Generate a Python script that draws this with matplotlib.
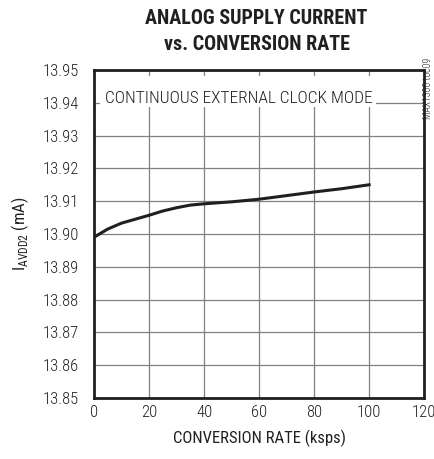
import matplotlib
matplotlib.use("Agg")
import numpy as np
from matplotlib import pyplot as plt
from matplotlib.patches import Rectangle

plt.rcParams['font.family'] = ['Roboto Condensed', 'Archivo Narrow', 'DejaVu Sans']
plt.rcParams['font.weight'] = 'light'

rate = [0, 5, 10, 15, 20, 25, 30, 35, 40, 50, 60, 70, 80, 90, 100]
current = [13.899, 13.9015, 13.9033, 13.9045, 13.9057, 13.907, 13.908, 13.9088,
           13.9092, 13.9098, 13.9106, 13.9117, 13.9128, 13.9138, 13.915]
xticks = [0, 20, 40, 60, 80, 100, 120]
yticks = [13.85, 13.86, 13.87, 13.88, 13.89, 13.90, 13.91, 13.92, 13.93, 13.94, 13.95]
ink = '#231f20'

fig = plt.figure(figsize=(4.35, 4.59), dpi=100)
ax = fig.add_axes([0.216, 0.133, 0.759, 0.7145])
ax.plot(rate, current, color=ink, lw=2.2, zorder=3)
ax.set_xlim(0, 120)
ax.set_ylim(13.85, 13.95)
ax.set_xticks(xticks)
ax.set_yticks(yticks)
ax.set_yticklabels(['%.2f' % v for v in yticks])
ax.tick_params(length=0, labelsize=12, colors=ink)
ax.tick_params(axis='x', pad=5)
ax.tick_params(axis='y', pad=11)
ax.grid(True, color='#808080', lw=0.9)
for s in ax.spines.values():
    s.set_linewidth(2)
    s.set_color(ink)

# white box behind the mode label
ax.add_patch(Rectangle((2.2, 13.9388), 100.3, 0.0094, facecolor='white',
                       edgecolor='none', zorder=2.5))
ax.text(52.5, 13.9399, 'CONTINUOUS EXTERNAL CLOCK MODE', ha='center', va='baseline',
        fontsize=12.5, color=ink, zorder=4)

ax.set_xlabel('CONVERSION RATE (ksps)', fontsize=12, color=ink, labelpad=7)
ax.set_ylabel(r'I$_{\mathregular{AVDD2}}$ (mA)', fontsize=12, color=ink, labelpad=8)

fig.text(0.59, 0.959, 'ANALOG SUPPLY CURRENT', ha='center', va='center',
         fontsize=14.5, fontweight='black', color=ink)
fig.text(0.59, 0.904, 'vs. CONVERSION RATE', ha='center', va='center',
         fontsize=14.5, fontweight='black', color=ink)
fig.text(0.985, 0.875, 'MAX1300 toc09', rotation=90, ha='center', va='top',
         fontsize=7, color=ink)

plt.savefig('out.png', dpi=100)
